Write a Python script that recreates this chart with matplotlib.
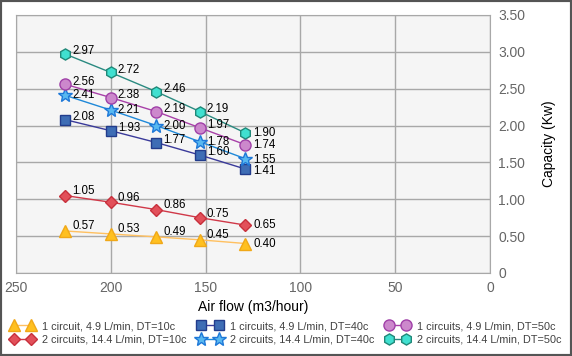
import matplotlib
matplotlib.use("Agg")
from matplotlib import pyplot as plt
from matplotlib.patches import Rectangle

plt.rcParams['font.family'] = ['Liberation Sans', 'DejaVu Sans']

# air flow (m3/hour)
airflow = [224, 200, 176, 153, 129]

# capacity (Kw)
c1_dt10 = [0.57, 0.53, 0.49, 0.45, 0.40]
c2_dt10 = [1.05, 0.96, 0.86, 0.75, 0.65]
c1_dt40 = [2.08, 1.93, 1.77, 1.60, 1.41]
c2_dt40 = [2.41, 2.21, 2.00, 1.78, 1.55]
c1_dt50 = [2.56, 2.38, 2.19, 1.97, 1.74]
c2_dt50 = [2.97, 2.72, 2.46, 2.19, 1.90]

names = ["1 circuit, 4.9 L/min, DT=10c", "2 circuits, 14.4 L/min, DT=10c",
         "1 circuits, 4.9 L/min, DT=40c", "2 circuits, 14.4 L/min, DT=40c",
         "1 circuits, 4.9 L/min, DT=50c", "2 circuits, 14.4 L/min, DT=50c"]

yticks = [0, 0.5, 1.0, 1.5, 2.0, 2.5, 3.0, 3.5]
ytick_labels = ["0", "0.50", "1.00", "1.50", "2.00", "2.50", "3.00", "3.50"]
xticks = [250, 200, 150, 100, 50, 0]

series = [c1_dt10, c2_dt10, c1_dt40, c2_dt40, c1_dt50, c2_dt50]
# (marker, marker face, marker edge, line colour, marker size)
styles = [
    ('^', '#FFC020', '#F0A818', '#FFC060', 8),
    ('D', '#E2505A', '#C8303C', '#D03848', 6.5),
    ('s', '#3E6DB5', '#223C8C', '#3A3A9A', 6.5),
    ('*', '#58B8F0', '#1E78D8', '#1E88D8', 10),
    ('o', '#CC88CC', '#A040A8', '#A840A8', 8),
    ('h', '#40E0D0', '#208878', '#2A8A80', 8),
]
# label offsets (points): normal points, last point
offsets = [((5, 3.5), (5.5, 0)), ((5, 3), (5.5, 0)), ((5, 2), (5.5, -1.5)),
           ((5, 0), (5.5, -1)), ((5, 2), (5.5, 0)), ((5, 2), (5.5, 0))]

fig = plt.figure(figsize=(5.72, 3.56), dpi=100)
ax = fig.add_axes([16/572, 83/356, 474/572, 258/356])
ax.set_facecolor('#F5F5F5')

handles = []
for vals, name, (mk, fc, ec, lc, ms), (off, off_last) in zip(series, names, styles, offsets):
    h, = ax.plot(airflow, vals, color=lc, lw=1, marker=mk, markersize=ms,
                 markerfacecolor=fc, markeredgecolor=ec, markeredgewidth=1,
                 label=name, zorder=3)
    handles.append(h)
    for i, (x, y) in enumerate(zip(airflow, vals)):
        o = off_last if i == len(vals) - 1 else off
        ax.annotate("%.2f" % y, (x, y), xytext=o, textcoords='offset points',
                    fontsize=8.3, color='black', va='center', ha='left', zorder=4)

ax.set_xlim(250, 0)
ax.set_ylim(0, 3.5)
ax.set_xticks(xticks)
ax.set_yticks(yticks)
ax.set_yticklabels(ytick_labels)
ax.yaxis.tick_right()
ax.yaxis.set_label_position('right')
ax.tick_params(axis='both', length=0, labelsize=10, colors='#666666', pad=6)
ax.grid(True, color='#A8A8A8', lw=1)
ax.set_axisbelow(True)
for s in ax.spines.values():
    s.set_color('#A8A8A8')
ax.set_xlabel("Air flow (m3/hour)", fontsize=10, labelpad=3)
ax.set_ylabel("Capacity (Kw)", fontsize=10, labelpad=12)

fig.legend(handles, names, loc='lower center', bbox_to_anchor=(0.5, 0.01),
           ncol=3, numpoints=2, frameon=False, fontsize=7.8, handlelength=2.2,
           handletextpad=0.7, columnspacing=1.1, labelspacing=0.35,
           borderpad=0.2, labelcolor='#404040')

fig.patches.append(Rectangle((0, 0), 1, 1, transform=fig.transFigure,
                             fill=False, edgecolor='#555555', lw=3))

fig.savefig("out.png", dpi=100)
